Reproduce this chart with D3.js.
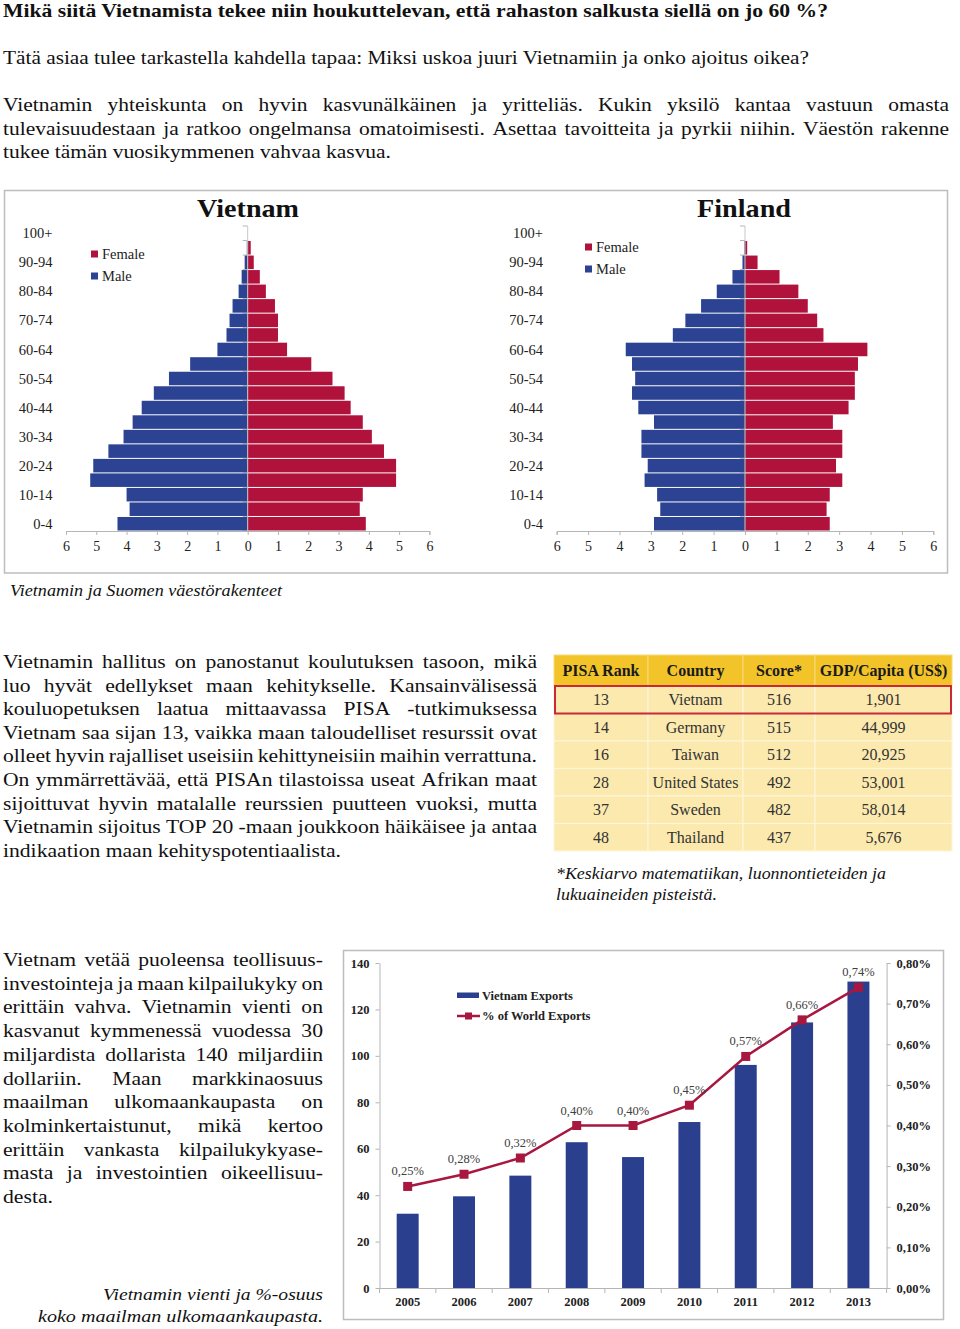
<!DOCTYPE html>
<html>
<head>
<meta charset="utf-8">
<script src="https://cdn.jsdelivr.net/npm/d3@7"></script>
<style>
  html, body { margin: 0; padding: 0; background: #fff; }
  svg { display: block; }
</style>
</head>
<body>
<script>
// ---------------- DATA ----------------
const ageGroups = ["0-4","5-9","10-14","15-19","20-24","25-29","30-34","35-39","40-44","45-49","50-54","55-59","60-64","65-69","70-74","75-79","80-84","85-89","90-94","95-99","100+"];
const vnMale   = [4.3,3.9,4.0,5.2,5.1,4.6,4.1,3.8,3.5,3.1,2.6,1.9,1.0,0.7,0.6,0.5,0.3,0.2,0.1,0.03,0];
const vnFemale = [3.9,3.7,3.8,4.9,4.9,4.5,4.1,3.8,3.4,3.2,2.8,2.1,1.3,1.0,1.0,0.9,0.6,0.4,0.2,0.1,0];
const fiMale   = [2.9,2.7,2.8,3.2,3.1,3.3,3.3,2.9,3.4,3.6,3.5,3.6,3.8,2.3,1.9,1.4,0.9,0.4,0.08,0.02,0];
const fiFemale = [2.7,2.6,2.7,3.1,2.9,3.1,3.1,2.8,3.3,3.5,3.5,3.6,3.9,2.5,2.3,2.0,1.7,1.1,0.4,0.07,0];
const pyramidTicks = [-6,-5,-4,-3,-2,-1,0,1,2,3,4,5,6];

const pisaHeader = ["PISA Rank","Country","Score*","GDP/Capita (US$)"];
const pisaRank = [13,14,16,28,37,48];
const pisaCountry = ["Vietnam","Germany","Taiwan","United States","Sweden","Thailand"];
const pisaScore = [516,515,512,492,482,437];
const pisaGdp = [1901,44999,20925,53001,58014,5676];

const years = ["2005","2006","2007","2008","2009","2010","2011","2012","2013"];
const exportsBn = [32.0,39.5,48.4,62.8,56.4,71.5,96.1,114.4,132.0];
const worldShare = [0.0025,0.0028,0.0032,0.0040,0.0040,0.0045,0.0057,0.0066,0.0074];
const exportTicksLeft = [0,20,40,60,80,100,120,140];
const exportTicksRight = [0,0.001,0.002,0.003,0.004,0.005,0.006,0.007,0.008];

// ---------------- TEXT ----------------
const heading = "Mikä siitä Vietnamista tekee niin houkuttelevan, että rahaston salkusta siellä on jo 60 %?";
const intro = "Tätä asiaa tulee tarkastella kahdella tapaa: Miksi uskoa juuri Vietnamiin ja onko ajoitus oikea?";
const para1 = [
  "Vietnamin yhteiskunta on hyvin kasvunälkäinen ja yritteliäs. Kukin yksilö kantaa vastuun omasta",
  "tulevaisuudestaan ja ratkoo ongelmansa omatoimisesti. Asettaa tavoitteita ja pyrkii niihin. Väestön rakenne",
  "tukee tämän vuosikymmenen vahvaa kasvua."
];
const para2 = [
  "Vietnamin hallitus on panostanut koulutuksen tasoon, mikä",
  "luo hyvät edellykset maan kehitykselle. Kansainvälisessä",
  "kouluopetuksen laatua mittaavassa PISA -tutkimuksessa",
  "Vietnam saa sijan 13, vaikka maan taloudelliset resurssit ovat",
  "olleet hyvin rajalliset useisiin kehittyneisiin maihin verrattuna.",
  "On ymmärrettävää, että PISAn tilastoissa useat Afrikan maat",
  "sijoittuvat hyvin matalalle reurssien puutteen vuoksi, mutta",
  "Vietnamin sijoitus TOP 20 -maan joukkoon häikäisee ja antaa",
  "indikaation maan kehityspotentiaalista."
];
const para3 = [
  "Vietnam vetää puoleensa teollisuus-",
  "investointeja ja maan kilpailukyky on",
  "erittäin vahva. Vietnamin vienti on",
  "kasvanut kymmenessä vuodessa 30",
  "miljardista dollarista 140 miljardiin",
  "dollariin. Maan markkinaosuus",
  "maailman ulkomaankaupasta on",
  "kolminkertaistunut, mikä kertoo",
  "erittäin vankasta kilpailukykyase-",
  "masta ja investointien oikeellisuu-",
  "desta."
];

const FONT = "'Liberation Serif', 'DejaVu Serif', serif";
const BLUE = "#2C4393", RED = "#B0123B";
const EXP_BLUE = "#2B3F8F", EXP_RED = "#A8173F";

const svg = d3.select("body").append("svg").attr("width", 960).attr("height", 1329)
  .attr("font-family", FONT);

// ---------------- helpers ----------------
function fitText(g, str, x, y, width, opts = {}) {
  const t = g.append("text").attr("x", x).attr("y", y).text(str)
    .attr("font-size", opts.size || 19)
    .attr("font-weight", opts.weight || "normal")
    .attr("font-style", opts.style || "normal")
    .attr("fill", opts.fill || "#111");
  if (opts.anchor) t.attr("text-anchor", opts.anchor);
  t.attr("textLength", width).attr("lengthAdjust", "spacingAndGlyphs");
  return t;
}

function textBlock(lines, o) {
  const g = svg.append("g").attr("font-size", o.size).attr("fill", "#111")
    .attr("font-style", o.style || "normal");
  const tmp = g.append("text").text(lines[lines.length - 1]);
  const nat = tmp.node().getComputedTextLength(); tmp.remove();
  const k = o.k || (o.lastWidth / nat);
  lines.forEach((line, i) => {
    const y = o.y0 + i * o.dy;
    const last = i === lines.length - 1;
    if (last) {
      const t = g.append("text").attr("x", o.x).attr("y", y).text(line);
      const w = t.node().getComputedTextLength();
      t.attr("textLength", o.lastWidth || w * k).attr("lengthAdjust", "spacingAndGlyphs");
    } else {
      const words = line.split(" ");
      const nodes = words.map(w => g.append("text").attr("y", y).text(w));
      let ws = nodes.map(n => n.node().getComputedTextLength() * k);
      let total = d3.sum(ws);
      let gap = (o.width - total) / (words.length - 1);
      const minGap = o.size * 0.22;
      if (gap < minGap) {
        const s = (o.width - minGap * (words.length - 1)) / total;
        ws = ws.map(w => w * s); total = d3.sum(ws); gap = minGap;
      }
      let cx = o.x;
      nodes.forEach((n, j) => {
        n.attr("x", cx).attr("textLength", ws[j]).attr("lengthAdjust", "spacingAndGlyphs");
        cx += ws[j] + gap;
      });
    }
  });
  return k;
}

// ---------------- top text ----------------
const topText = svg.append("g");
fitText(topText, heading, 3, 17, 825, { size: 19, weight: "bold" });
fitText(topText, intro, 3, 64, 806, { size: 19 });
textBlock(para1, { x: 3, y0: 111, dy: 23.5, size: 19, width: 946, lastWidth: 388 });

// ---------------- pyramids ----------------
svg.append("rect").attr("x", 4.5).attr("y", 190.5).attr("width", 943).attr("height", 382.5)
  .attr("fill", "none").attr("stroke", "#bdbdbd").attr("stroke-width", 1.5);

function pyramid(male, female, o) {
  const g = svg.append("g");
  const x = d3.scaleLinear().domain([-6, 6]).range(o.xRange);
  const y = d3.scaleBand().domain(ageGroups.slice().reverse()).range([226, 531]);
  const cx = x(0);

  const bounds = ageGroups.map(a => y(a)).concat([531]);
  g.selectAll(".ct").data(bounds).join("line")
    .attr("x1", cx - 5).attr("x2", cx).attr("y1", d => d).attr("y2", d => d)
    .attr("stroke", "#b5b5b5").attr("stroke-width", 1);

  g.selectAll(".m").data(ageGroups).join("rect")
    .attr("x", (d, i) => x(-male[i])).attr("width", (d, i) => cx - x(-male[i]))
    .attr("y", d => y(d) + 0.5).attr("height", y.bandwidth() - 1)
    .attr("fill", BLUE);
  g.selectAll(".f").data(ageGroups).join("rect")
    .attr("x", cx).attr("width", (d, i) => x(female[i]) - cx)
    .attr("y", d => y(d) + 0.5).attr("height", y.bandwidth() - 1)
    .attr("fill", RED);

  g.append("line").attr("x1", cx).attr("x2", cx).attr("y1", 226).attr("y2", 531)
    .attr("stroke", "#c8c8c8").attr("stroke-width", 1);

  const ax = g.append("g").attr("transform", "translate(0,531)")
    .call(d3.axisBottom(x).tickValues(pyramidTicks).tickFormat(d => Math.abs(d))
      .tickSize(4).tickSizeOuter(4).tickPadding(6));
  ax.select(".domain").attr("stroke", "#b5b5b5");
  ax.selectAll(".tick line").attr("stroke", "#b5b5b5");
  ax.selectAll("text").attr("font-size", 14).attr("fill", "#222").attr("font-family", FONT);

  g.selectAll(".al").data(ageGroups.filter((d, i) => i % 2 === 0)).join("text")
    .attr("x", o.labelRight).attr("y", d => y(d) + y.bandwidth() / 2).attr("dy", "0.35em")
    .attr("text-anchor", "end").attr("font-size", 14.5).attr("fill", "#222").text(d => d);

  fitText(g, o.title, o.titleX - o.titleW / 2, 217, o.titleW, { size: 26, weight: "bold" });

  const lg = g.append("g").attr("transform", `translate(${o.legX},${o.legY})`);
  [["Female", RED], ["Male", BLUE]].forEach(([lab, c], i) => {
    lg.append("rect").attr("x", 0).attr("y", i * 22 - 3.5).attr("width", 7).attr("height", 7).attr("fill", c);
    lg.append("text").attr("x", 11).attr("y", i * 22).attr("dy", "0.35em")
      .attr("font-size", 14.5).attr("fill", "#222").text(lab);
  });
}

pyramid(vnMale, vnFemale, { xRange: [66, 429.4], labelRight: 52.5, title: "Vietnam", titleX: 248, titleW: 102, legX: 91, legY: 254 });
pyramid(fiMale, fiFemale, { xRange: [556.7, 933.3], labelRight: 543, title: "Finland", titleX: 744, titleW: 94, legX: 585, legY: 247 });

fitText(svg.append("g"), "Vietnamin ja Suomen väestörakenteet", 10, 596, 272, { size: 17, style: "italic" });

// ---------------- paragraph 2 ----------------
const k2 = textBlock(para2, { x: 3, y0: 668, dy: 23.6, size: 19, width: 534, lastWidth: 338 });

// ---------------- PISA table ----------------
const colEdges = [554, 648, 743, 815, 952];
const tbl = svg.append("g");
const headerTop = 655, headerBot = 686;
const bodyY = d3.scaleBand().domain(d3.range(6)).range([686, 851]);
const cols = d3.range(4);
tbl.selectAll(".hc").data(cols).join("rect")
  .attr("x", c => colEdges[c]).attr("width", c => colEdges[c + 1] - colEdges[c])
  .attr("y", headerTop).attr("height", headerBot - headerTop)
  .attr("fill", "#F2C42A").attr("stroke", "#F7DA7A").attr("stroke-width", 1);
tbl.selectAll(".ht").data(cols).join("text")
  .attr("x", c => (colEdges[c] + colEdges[c + 1]) / 2).attr("y", (headerTop + headerBot) / 2)
  .attr("dy", "0.35em").attr("text-anchor", "middle").attr("font-weight", "bold")
  .attr("font-size", 16).attr("fill", "#1a1a1a").text(c => pisaHeader[c]);
const fmtGdp = d3.format(",");
const rows = d3.range(6).map(i => [pisaRank[i], pisaCountry[i], pisaScore[i], fmtGdp(pisaGdp[i])]);
rows.forEach((r, i) => {
  cols.forEach(c => {
    tbl.append("rect").attr("x", colEdges[c]).attr("width", colEdges[c + 1] - colEdges[c])
      .attr("y", bodyY(i)).attr("height", bodyY.bandwidth())
      .attr("fill", "#FBE9AE").attr("stroke", "#FFF6D8").attr("stroke-width", 1.2);
    tbl.append("text").attr("x", (colEdges[c] + colEdges[c + 1]) / 2)
      .attr("y", bodyY(i) + bodyY.bandwidth() / 2).attr("dy", "0.35em")
      .attr("text-anchor", "middle").attr("font-size", 16).attr("fill", "#333").text(r[c]);
  });
});
tbl.append("rect").attr("x", 555).attr("y", bodyY(0)).attr("width", 396).attr("height", bodyY.bandwidth())
  .attr("fill", "none").attr("stroke", "#C8283A").attr("stroke-width", 2);

const fn = svg.append("g");
fitText(fn, "*Keskiarvo matematiikan, luonnontieteiden ja", 556, 879, 330, { size: 16.5, style: "italic" });
fitText(fn, "lukuaineiden pisteistä.", 556, 900, 161, { size: 16.5, style: "italic" });

// ---------------- paragraph 3 ----------------
textBlock(para3, { x: 3, y0: 966, dy: 23.7, size: 19, width: 320, k: k2, lastWidth: 50 });
const cap = svg.append("g");
fitText(cap, "Vietnamin vienti ja %-osuus", 103, 1300, 220, { size: 17, style: "italic" });
fitText(cap, "koko maailman ulkomaankaupasta.", 38, 1322, 285, { size: 17, style: "italic" });

// ---------------- exports chart ----------------
svg.append("rect").attr("x", 343.5).attr("y", 950.5).attr("width", 600).attr("height", 369)
  .attr("fill", "none").attr("stroke", "#bdbdbd").attr("stroke-width", 1.5);

const ex = svg.append("g");
const xE = d3.scaleBand().domain(years).range([379.5, 886.6]).paddingInner(0.61).paddingOuter(0.305);
const yL = d3.scaleLinear().domain([0, 140]).range([1288, 963]);
const yR = d3.scaleLinear().domain([0, 0.008]).range([1288, 963]);
const decComma = d3.formatLocale({ decimal: ",", thousands: " ", grouping: [3], currency: ["", ""] });
const pct = decComma.format(".2%");

ex.selectAll(".bar").data(years).join("rect")
  .attr("x", d => xE(d)).attr("width", xE.bandwidth())
  .attr("y", (d, i) => yL(exportsBn[i])).attr("height", (d, i) => yL(0) - yL(exportsBn[i]))
  .attr("fill", EXP_BLUE);

const axL = ex.append("g").attr("transform", "translate(379.5,0)")
  .call(d3.axisLeft(yL).tickValues(exportTicksLeft).tickSize(4).tickSizeOuter(0).tickPadding(6));
const axR = ex.append("g").attr("transform", "translate(886.6,0)")
  .call(d3.axisRight(yR).tickValues(exportTicksRight).tickFormat(pct).tickSize(4).tickSizeOuter(0).tickPadding(6));
const axB = ex.append("g").attr("transform", "translate(0,1288)")
  .call(d3.axisBottom(xE).tickSize(0).tickPadding(9));
ex.selectAll(".bt").data(d3.range(years.length + 1)).join("line")
  .attr("x1", i => 379.5 + i * (886.6 - 379.5) / years.length)
  .attr("x2", i => 379.5 + i * (886.6 - 379.5) / years.length)
  .attr("y1", 1288).attr("y2", 1293).attr("stroke", "#b5b5b5");
[axL, axR, axB].forEach(a => {
  a.select(".domain").attr("stroke", "#b5b5b5");
  a.selectAll(".tick line").attr("stroke", "#b5b5b5");
  a.selectAll("text").attr("font-family", FONT).attr("font-size", 12.5)
    .attr("font-weight", "bold").attr("fill", "#222");
});
axB.selectAll("text").attr("font-size", 12.5);

const cxE = d => xE(d) + xE.bandwidth() / 2;
ex.append("path").datum(years)
  .attr("d", d3.line().x(d => cxE(d)).y((d, i) => yR(worldShare[i])))
  .attr("fill", "none").attr("stroke", EXP_RED).attr("stroke-width", 2.5);
ex.selectAll(".mk").data(years).join("rect")
  .attr("x", d => cxE(d) - 4.5).attr("y", (d, i) => yR(worldShare[i]) - 4.5)
  .attr("width", 9).attr("height", 9).attr("fill", EXP_RED);
ex.selectAll(".dl").data(years).join("text")
  .attr("x", d => cxE(d)).attr("y", (d, i) => yR(worldShare[i]) - 11)
  .attr("text-anchor", "middle").attr("font-size", 12.5).attr("fill", "#404040")
  .text((d, i) => pct(worldShare[i]));

const lgE = ex.append("g");
lgE.append("rect").attr("x", 457).attr("y", 992.5).attr("width", 22).attr("height", 5.5).attr("fill", EXP_BLUE);
lgE.append("text").attr("x", 482).attr("y", 995.5).attr("dy", "0.35em").attr("font-size", 12.5)
  .attr("font-weight", "bold").attr("fill", "#222").text("Vietnam Exports");
lgE.append("line").attr("x1", 457).attr("x2", 480).attr("y1", 1016).attr("y2", 1016)
  .attr("stroke", EXP_RED).attr("stroke-width", 2.5);
lgE.append("rect").attr("x", 465).attr("y", 1012.5).attr("width", 7).attr("height", 7).attr("fill", EXP_RED);
lgE.append("text").attr("x", 482).attr("y", 1016).attr("dy", "0.35em").attr("font-size", 12.5)
  .attr("font-weight", "bold").attr("fill", "#222").text("% of World Exports");
</script>
</body>
</html>
